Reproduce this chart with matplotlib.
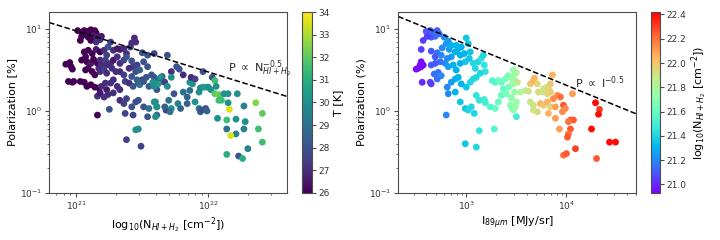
#!/usr/bin/env python
# -*- coding: utf8 -*-
"""Polarization vs column density and 89um intensity"""

import numpy as np
import matplotlib
matplotlib.use("Agg")
import matplotlib.pyplot as plt

# left panel: log10(N_HI+H2), log10(P [%]), T [K]
log_n = [
    21.01, 21.04, 21.06, 21.09, 21.11, 21.14, 21.15, 21.07, 21.10, 21.13,
    21.04, 21.09, 21.15, 21.18, 21.19, 21.03, 21.11, 21.15,
    21.06, 21.09, 21.12, 21.15, 21.18, 21.21, 21.23, 21.24, 21.26, 21.28,
    21.31, 21.33, 21.36, 21.38, 21.41, 21.42, 21.44, 21.45, 21.50, 21.54, 21.59,
    21.04, 21.07, 21.08, 21.11, 21.13, 21.16, 21.18, 21.19, 21.22, 21.23,
    21.26, 21.28, 21.31, 21.33, 21.36, 21.38, 21.42, 21.43, 21.46, 21.48,
    21.51, 21.54, 21.57, 21.59, 21.61, 21.65,
    21.07, 21.09, 21.12, 21.14, 21.17, 21.18, 21.21, 21.23, 21.27, 21.30,
    21.33, 21.36, 21.40, 21.42, 21.45, 21.47, 21.50, 21.53,
    21.03, 21.06, 21.08, 21.11, 21.14, 21.17, 21.19, 21.22, 21.23, 21.26,
    21.28, 21.31, 21.33, 21.37, 21.40, 21.43, 21.46, 21.48, 21.51, 21.55,
    21.59, 21.61, 21.64,
    21.16, 21.18, 21.21, 21.24, 21.28, 21.33, 21.36, 21.38, 21.42, 21.45,
    21.47, 21.51, 21.55, 21.59, 21.61,
    21.16, 21.25, 21.37, 21.43, 21.54, 21.61, 21.45, 21.47, 21.38, 21.49,
    20.92, 20.95, 20.96, 20.97, 20.94, 20.97, 20.98,
    21.64, 21.66, 21.62, 21.58, 21.59, 21.60, 21.61, 21.60, 21.68,
    21.69, 21.72, 21.76, 21.78, 21.81, 21.72, 21.67, 21.74, 21.69, 21.79,
    21.72, 21.84, 21.84, 21.86, 21.88, 21.87, 21.90, 21.96, 21.81, 21.86,
    21.90, 21.93, 21.94, 21.96, 21.98, 22.00, 22.02, 21.93, 21.94, 21.95,
    21.98, 21.99, 22.03, 22.05, 22.06, 22.05, 22.08, 22.09, 22.10, 22.08,
    22.12, 22.15, 22.15, 22.16, 22.14, 22.07, 22.14, 22.21, 22.27, 22.22,
    22.28, 22.27, 22.21, 22.17, 22.36, 22.41, 22.38, 22.41, 22.30, 22.23,
    22.26, 22.14, 21.70, 21.77, 21.67, 21.71,
]
log_p_left = [
    0.98, 0.96, 0.98, 0.97, 0.99, 0.98, 0.95, 0.93, 0.93, 0.92,
    0.91, 0.90, 0.90, 0.87, 0.91, 0.86, 0.86, 0.84,
    0.72, 0.74, 0.70, 0.75, 0.72, 0.74, 0.68, 0.78, 0.84, 0.74,
    0.76, 0.75, 0.76, 0.70, 0.78, 0.83, 0.89, 0.84, 0.71, 0.68, 0.70,
    0.62, 0.66, 0.60, 0.58, 0.63, 0.58, 0.62, 0.56, 0.62, 0.56,
    0.58, 0.62, 0.66, 0.58, 0.62, 0.66, 0.61, 0.54, 0.56, 0.50,
    0.60, 0.54, 0.44, 0.41, 0.38, 0.42,
    0.50, 0.52, 0.48, 0.44, 0.52, 0.48, 0.50, 0.46, 0.52, 0.48,
    0.48, 0.44, 0.52, 0.42, 0.48, 0.34, 0.38, 0.41,
    0.36, 0.35, 0.30, 0.32, 0.29, 0.28, 0.30, 0.34, 0.26, 0.34,
    0.38, 0.30, 0.26, 0.36, 0.34, 0.30, 0.38, 0.32, 0.36, 0.30,
    0.34, 0.26, 0.36,
    0.18, 0.22, 0.17, 0.20, 0.22, 0.13, 0.09, 0.15, 0.05, 0.11,
    0.13, 0.05, 0.03, 0.11, 0.05,
    -0.05, 0.02, -0.03, -0.05, -0.07, -0.05, -0.23, -0.22, -0.35, -0.43,
    0.57, 0.59, 0.54, 0.51, 0.36, 0.35, 0.36,
    0.41, 0.36, 0.33, 0.35, 0.30, 0.11, 0.05, -0.07, 0.01,
    0.68, 0.48, 0.54, 0.51, 0.44, 0.41, 0.35, 0.21, 0.30, 0.03,
    0.03, 0.17, 0.09, 0.35, 0.33, 0.41, 0.39, 0.48, 0.23, 0.25,
    0.11, 0.23, 0.28, 0.29, 0.29, 0.29, 0.26, 0.03, -0.01, 0.01,
    0.03, 0.00, 0.41, 0.37, 0.30, 0.21, 0.20, 0.19, 0.13, 0.13,
    0.21, 0.21, 0.10, 0.02, -0.11, -0.09, -0.22, -0.10, 0.06, 0.21,
    -0.13, -0.22, -0.28, -0.30, 0.10, -0.03, -0.22, -0.38, -0.46, -0.55,
    -0.58, -0.53, 0.13, 0.09, 0.05, -0.01,
]
temp = [
    26, 26, 26, 26, 26, 26, 26, 26, 26, 26.5,
    26, 26, 26.5, 27, 26.5, 26, 26, 27,
    26, 26, 26, 26.5, 26, 27, 27.5, 28, 27.5, 27,
    26.5, 26.5, 27, 27, 27.5, 27, 27, 27, 28, 28, 27.5,
    26, 26, 26, 26.5, 26, 26, 27, 27, 27.5, 27,
    27, 26.5, 27, 27, 27.5, 28, 28, 27.5, 27.5, 28.5,
    28, 28, 28, 28, 28.5, 28,
    26, 26, 26, 26, 27, 27, 27.5, 27, 27, 27,
    27, 27.5, 27, 28, 28, 28, 27.5, 28,
    26, 26, 26, 26, 26, 26, 27, 27, 26.5, 27,
    27, 27, 27, 27.5, 27, 28, 28.5, 29, 28, 28.5,
    29.5, 28, 28,
    27, 26.5, 27, 27, 27, 27, 27.5, 27.5, 28, 28,
    28, 28, 29, 30, 29.5,
    26, 28, 27.5, 27.5, 28, 28.5, 30, 30, 27.5, 27.5,
    26, 26, 26, 26, 26, 26, 26,
    30, 29.5, 30.5, 30, 30, 30, 30, 30, 27.5,
    28, 27, 28, 28, 27, 30, 27.5, 28, 30, 28.5,
    30, 28.5, 28.5, 30, 30, 27, 27.5, 28, 29, 29,
    30, 30, 29.5, 30, 30.5, 30, 30, 29, 28.5, 28,
    28, 28.5, 28, 31.5, 30, 32, 32.5, 32, 31.5, 31.5,
    30, 30, 30, 33.5, 31.5, 30, 29, 30, 29.5, 30,
    30, 29.5, 29.5, 33.5, 32.5, 32, 31.5, 31.5, 29.5, 28,
    31, 31, 29, 29.5, 28.5, 29,
]

# right panel: log10(I_89um [MJy/sr]), log10(P [%]), log10(N_HI+H2)
log_i = [
    2.60, 2.64, 2.68, 2.71, 2.73, 2.69, 2.65, 2.61, 2.57, 2.55,
    2.65, 2.71, 2.75, 2.69, 2.78, 2.80, 2.82, 2.76, 2.83, 2.85,
    2.90, 2.92, 2.95, 3.00, 3.02, 3.04, 2.98, 2.94, 2.89, 2.85,
    2.81, 2.79, 2.74, 2.69, 2.65, 2.68, 2.72, 2.75, 2.71, 2.64,
    2.65, 2.56, 2.54, 2.52, 2.55, 2.57, 2.55, 2.50, 2.82, 2.87,
    2.90, 2.94, 2.99, 3.03, 3.07, 3.09, 3.12, 3.15, 3.17, 3.18,
    3.19, 3.14, 3.10, 3.07, 3.04, 3.00, 2.95, 2.92, 2.89, 2.85,
    2.81, 2.82, 2.89, 2.94, 2.99, 3.02, 3.05, 3.10, 3.13, 3.18,
    3.19, 3.24, 3.29, 3.32, 3.35, 3.26, 3.29, 3.32, 3.35, 3.39,
    3.42, 3.45, 3.49, 3.47, 3.42, 3.37, 3.40, 3.45, 3.50, 3.44,
    3.47, 3.50, 2.80, 2.99, 3.10, 3.13, 3.28, 3.08,
    3.47, 3.50, 3.47, 3.51, 3.46, 3.48, 3.46, 3.49, 3.54, 3.59,
    3.62, 3.64, 3.67, 3.68, 3.71, 3.72, 3.76, 3.77, 3.80, 3.82,
    3.84, 3.81, 3.86, 3.84, 3.64, 3.67, 3.71, 3.67, 3.74, 3.77,
    3.81, 3.84, 3.89, 3.91, 3.94, 3.97, 3.96, 3.89, 3.82, 3.87,
    3.99, 4.06, 4.04, 4.07, 4.02, 4.04, 4.02, 4.01, 3.93, 3.97,
    4.00, 4.09, 4.30, 4.25, 4.29, 4.33, 4.32, 4.43, 4.49,
]
log_p_right = [
    0.97, 0.98, 0.96, 0.98, 0.94, 0.91, 0.90, 0.91, 0.86, 0.75,
    0.73, 0.71, 0.68, 0.66, 0.90, 0.82, 0.85, 0.77, 0.75, 0.80,
    0.80, 0.76, 0.78, 0.89, 0.82, 0.72, 0.70, 0.68, 0.72, 0.66,
    0.64, 0.58, 0.60, 0.58, 0.56, 0.45, 0.47, 0.43, 0.39, 0.35,
    0.33, 0.35, 0.56, 0.52, 0.60, 0.56, 0.54, 0.51, 0.54, 0.56,
    0.50, 0.58, 0.60, 0.64, 0.58, 0.52, 0.60, 0.64, 0.68, 0.56,
    0.48, 0.46, 0.41, 0.39, 0.35, 0.29, 0.33, 0.41, 0.39, 0.35,
    0.29, 0.21, 0.23, 0.11, 0.03, 0.01, 0.05, 0.19, 0.13, 0.14,
    0.10, 0.05, 0.03, 0.11, 0.19, 0.37, 0.35, 0.37, 0.35, 0.39,
    0.43, 0.41, 0.46, 0.33, 0.29, 0.27, 0.21, 0.16, 0.11, 0.07,
    0.01, -0.07, -0.05, -0.40, -0.44, -0.24, -0.22, -0.03,
    0.50, 0.47, 0.39, 0.35, 0.33, 0.23, 0.03, 0.05, 0.23, 0.25,
    0.24, 0.33, 0.37, 0.40, 0.33, 0.23, 0.23, 0.27, 0.29, 0.27,
    0.23, 0.21, 0.44, 0.33, 0.11, 0.07, -0.01, 0.01, 0.09, 0.07,
    0.11, 0.05, 0.05, 0.19, 0.17, 0.07, -0.01, -0.09, -0.03, 0.15,
    0.03, 0.21, -0.11, -0.11, -0.13, -0.22, -0.28, -0.32, -0.22, -0.54,
    -0.52, -0.46, -0.58, -0.22, 0.10, 0.02, -0.04, -0.38, -0.38,
]
log_n_right = [
    21.1, 21.1, 21.15, 21.1, 21.15, 21.15, 21.1, 21.05, 21.05, 21.05,
    21.1, 21.15, 21.2, 21.1, 21.2, 21.25, 21.25, 21.2, 21.25, 21.3,
    21.3, 21.3, 21.3, 21.35, 21.35, 21.35, 21.3, 21.3, 21.3, 21.25,
    21.2, 21.2, 21.15, 21.1, 21.1, 21.15, 21.15, 21.2, 21.15, 21.05,
    21.05, 21.0, 20.95, 20.95, 20.95, 20.95, 20.95, 20.95, 21.25, 21.3,
    21.3, 21.3, 21.35, 21.35, 21.4, 21.4, 21.4, 21.45, 21.4, 21.45,
    21.45, 21.4, 21.4, 21.4, 21.4, 21.35, 21.3, 21.3, 21.3, 21.25,
    21.2, 21.2, 21.3, 21.35, 21.35, 21.4, 21.4, 21.45, 21.45, 21.5,
    21.5, 21.55, 21.6, 21.6, 21.6, 21.55, 21.55, 21.6, 21.6, 21.65,
    21.65, 21.7, 21.75, 21.7, 21.65, 21.6, 21.65, 21.7, 21.75, 21.7,
    21.7, 21.5, 21.2, 21.35, 21.4, 21.45, 21.55, 21.4,
    21.75, 21.8, 21.75, 21.9, 21.75, 21.75, 21.7, 21.75, 21.8, 21.85,
    21.9, 22.0, 22.05, 22.05, 21.95, 21.95, 21.9, 21.9, 21.9, 21.95,
    22.0, 21.95, 22.05, 22.0, 21.9, 21.9, 21.95, 21.9, 22.05, 22.0,
    22.05, 21.95, 22.1, 22.15, 22.2, 22.25, 22.15, 22.1, 22.05, 22.15,
    22.15, 22.1, 22.25, 22.25, 22.2, 22.25, 22.2, 22.25, 22.1, 22.2,
    22.25, 22.3, 22.25, 22.4, 22.4, 22.3, 22.4, 22.4, 22.4,
]

plt.rcParams["font.size"] = 6.5
plt.rcParams["axes.edgecolor"] = "0.3"
plt.rcParams["axes.labelpad"] = 2
for ax_name in ("xtick", "ytick"):
    plt.rcParams[ax_name + ".color"] = "0.3"
    plt.rcParams[ax_name + ".labelcolor"] = "0.2"
    plt.rcParams[ax_name + ".major.size"] = 3
    plt.rcParams[ax_name + ".minor.size"] = 1.5
    plt.rcParams[ax_name + ".major.pad"] = 2
    plt.rcParams[ax_name + ".minor.pad"] = 2

fig = plt.figure(figsize=(7.2, 2.4), dpi=100)
ax1 = fig.add_axes([0.068, 0.196, 0.331, 0.754])
cax1 = fig.add_axes([0.419, 0.196, 0.014, 0.754])
ax2 = fig.add_axes([0.553, 0.196, 0.331, 0.754])
cax2 = fig.add_axes([0.904, 0.196, 0.0125, 0.754])

# left panel
n_vals = 10 ** np.array(log_n)
p_left = 10 ** np.array(log_p_left)
sc1 = ax1.scatter(n_vals, p_left, c=temp, cmap="viridis", vmin=26, vmax=34,
                  s=24, linewidths=0)
ax1.set_xscale("log")
ax1.set_yscale("log")
ax1.set_xlim(6.2e20, 3.97e22)
ax1.set_ylim(0.1, 16.1)
xx = np.logspace(np.log10(6.2e20), np.log10(3.97e22), 50)
ax1.plot(xx, 9.45 * (xx / 1e21) ** -0.5, "k--", lw=1.1)
ax1.text(1.41e22, 3.3, r"P $\propto$ N$^{-0.5}_{HI+H_2}$", fontsize=8,
         va="center", color="0.15")
ax1.set_xlabel(r"log$_{10}$(N$_{HI+H_2}$ [cm$^{-2}$])", fontsize=8)
ax1.set_ylabel("Polarization [%]", fontsize=8)
cb1 = fig.colorbar(sc1, cax=cax1)
cb1.set_label("T [K]", fontsize=8)
cb1.outline.set_edgecolor("0.3")

# right panel
i_vals = 10 ** np.array(log_i)
p_right = 10 ** np.array(log_p_right)
sc2 = ax2.scatter(i_vals, p_right, c=log_n_right, cmap="rainbow",
                  vmin=20.93, vmax=22.42, s=24, linewidths=0)
ax2.set_xscale("log")
ax2.set_yscale("log")
ax2.set_xlim(209, 50000)
ax2.set_ylim(0.1, 16.1)
ii = np.logspace(np.log10(209), np.log10(50000), 50)
ax2.plot(ii, 6.5 * (ii / 1e3) ** -0.5, "k--", lw=1.1)
ax2.text(1.23e4, 2.2, r"P $\propto$ I$^{-0.5}$", fontsize=8,
         va="center", color="0.15")
ax2.set_xlabel(r"I$_{89\mu m}$ [MJy/sr]", fontsize=8)
ax2.set_ylabel("Polarization (%)", fontsize=8)
cb2 = fig.colorbar(sc2, cax=cax2)
cb2.set_ticks(np.arange(21.0, 22.41, 0.2))
cb2.set_label(r"log$_{10}$(N$_{HI+H_2}$ [cm$^{-2}$])", fontsize=8)
cb2.outline.set_edgecolor("0.3")

fig.savefig("out.png", dpi=100)
